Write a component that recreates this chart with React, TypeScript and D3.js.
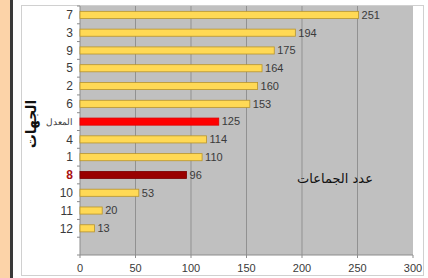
import React, { useEffect, useRef } from "react";
import * as d3 from "d3";

// Regions (top to bottom), last one is the empty slot Excel leaves
const categories = ["7", "3", "9", "5", "2", "6", "المعدل", "4", "1", "8", "10", "11", "12", ""];
const values = [251, 194, 175, 164, 160, 153, 125, 114, 110, 96, 53, 20, 13, null];
const xTicks = [0, 50, 100, 150, 200, 250, 300];

const yAxisTitle = "الجهات";
const xAxisTitle = "عدد الجماعات";

export default function App() {
  const ref = useRef<SVGSVGElement>(null);

  useEffect(() => {
    const svg = d3.select(ref.current);
    svg.selectAll("*").remove();

    const width = 428,
      height = 278;
    const plot = { left: 80, right: 413, top: 6, bottom: 255 };

    // page background: peach strip + dark rule + white chart area
    svg.append("rect").attr("width", width).attr("height", height).attr("fill", "#ffffff");
    svg.append("rect").attr("x", 0).attr("y", 0).attr("width", 11).attr("height", height).attr("fill", "#fcd3a8");
    svg.append("rect").attr("x", 10).attr("y", 0).attr("width", 3).attr("height", height).attr("fill", "#3a3a3a");
    svg
      .append("rect")
      .attr("x", 21.5)
      .attr("y", 5.5)
      .attr("width", 402)
      .attr("height", 270)
      .attr("fill", "#ffffff")
      .attr("stroke", "#d0d0d0");

    const x = d3.scaleLinear().domain([0, 300]).range([plot.left, plot.right]);
    const y = d3
      .scaleBand<string>()
      .domain(categories.map((c, i) => c + "|" + i))
      .range([plot.top, plot.bottom])
      .paddingInner(0.6)
      .paddingOuter(0.3);
    const key = (i: number) => categories[i] + "|" + i;

    // plot area
    svg
      .append("rect")
      .attr("x", plot.left)
      .attr("y", plot.top)
      .attr("width", plot.right - plot.left)
      .attr("height", plot.bottom - plot.top)
      .attr("fill", "#c0c0c0");

    // gridlines
    svg
      .append("g")
      .selectAll("line")
      .data(xTicks.filter((t) => t > 0 && t < 300))
      .join("line")
      .attr("x1", (d) => x(d))
      .attr("x2", (d) => x(d))
      .attr("y1", plot.top)
      .attr("y2", plot.bottom)
      .attr("stroke", "#919191")
      .attr("stroke-width", 1);

    // axis lines and ticks
    svg
      .append("line")
      .attr("x1", plot.left)
      .attr("x2", plot.left)
      .attr("y1", plot.top)
      .attr("y2", plot.bottom)
      .attr("stroke", "#8c8c8c");
    svg
      .append("line")
      .attr("x1", plot.left)
      .attr("x2", plot.right)
      .attr("y1", plot.bottom)
      .attr("y2", plot.bottom)
      .attr("stroke", "#8c8c8c");

    const step = y.step();
    svg
      .append("g")
      .selectAll("line")
      .data(d3.range(categories.length + 1))
      .join("line")
      .attr("x1", plot.left - 3)
      .attr("x2", plot.left)
      .attr("y1", (i) => plot.top + i * step)
      .attr("y2", (i) => plot.top + i * step)
      .attr("stroke", "#8c8c8c");

    svg
      .append("g")
      .selectAll("line")
      .data(xTicks)
      .join("line")
      .attr("x1", (d) => x(d))
      .attr("x2", (d) => x(d))
      .attr("y1", plot.bottom)
      .attr("y2", plot.bottom + 3)
      .attr("stroke", "#8c8c8c");

    // x tick labels
    svg
      .append("g")
      .selectAll("text")
      .data(xTicks)
      .join("text")
      .attr("x", (d) => x(d))
      .attr("y", 272)
      .attr("text-anchor", "middle")
      .attr("font-family", "Liberation Sans, Arial, sans-serif")
      .attr("font-size", 11)
      .attr("fill", "#3a3a3a")
      .text((d) => d);

    // bars
    const fillFor = (c: string) => (c === "المعدل" ? "#ff0000" : c === "8" ? "#990000" : "#ffd955");
    const strokeFor = (c: string) => (c === "المعدل" ? "#e00000" : c === "8" ? "#7a0000" : "#b8942c");

    const rows = values
      .map((v, i) => ({ c: categories[i], v, i }))
      .filter((d) => d.v !== null) as { c: string; v: number; i: number }[];

    svg
      .append("g")
      .selectAll("rect")
      .data(rows)
      .join("rect")
      .attr("x", x(0))
      .attr("y", (d) => y(key(d.i))!)
      .attr("width", (d) => x(d.v) - x(0))
      .attr("height", y.bandwidth())
      .attr("fill", (d) => fillFor(d.c))
      .attr("stroke", (d) => strokeFor(d.c))
      .attr("stroke-width", 0.8);

    // value labels
    svg
      .append("g")
      .selectAll("text")
      .data(rows)
      .join("text")
      .attr("x", (d) => x(d.v) + 3)
      .attr("y", (d) => y(key(d.i))! + y.bandwidth() / 2)
      .attr("dy", "0.35em")
      .attr("font-family", "Liberation Sans, Arial, sans-serif")
      .attr("font-size", 11)
      .attr("fill", "#3a3a3a")
      .text((d) => d.v);

    // category labels
    svg
      .append("g")
      .selectAll("text")
      .data(categories.map((c, i) => ({ c, i })).filter((d) => d.c !== ""))
      .join("text")
      .attr("x", 73)
      .attr("y", (d) => y(key(d.i))! + y.bandwidth() / 2)
      .attr("dy", "0.35em")
      .attr("text-anchor", "end")
      .attr("font-family", "Liberation Sans, Arial, sans-serif")
      .attr("font-size", (d) => (d.c === "المعدل" ? 9 : 12))
      .attr("font-weight", (d) => (d.c === "8" ? "bold" : "normal"))
      .attr("fill", (d) => (d.c === "8" ? "#aa1111" : "#3a3a3a"))
      .text((d) => d.c);

    // axis titles
    svg
      .append("text")
      .attr("transform", "translate(31, 124) rotate(-90)")
      .attr("text-anchor", "middle")
      .attr("dy", "0.35em")
      .attr("font-family", "DejaVu Sans, sans-serif")
      .attr("font-size", 14)
      .attr("font-weight", "bold")
      .attr("fill", "#111")
      .text(yAxisTitle);

    svg
      .append("text")
      .attr("x", 335)
      .attr("y", 178)
      .attr("text-anchor", "middle")
      .attr("dy", "0.35em")
      .attr("font-family", "DejaVu Sans, sans-serif")
      .attr("font-size", 13)
      .attr("fill", "#111")
      .text(xAxisTitle);
  }, []);

  return (
    <svg
      ref={ref}
      width={428}
      height={278}
      style={{ position: "absolute", left: 0, top: 0, display: "block" }}
    ></svg>
  );
}
